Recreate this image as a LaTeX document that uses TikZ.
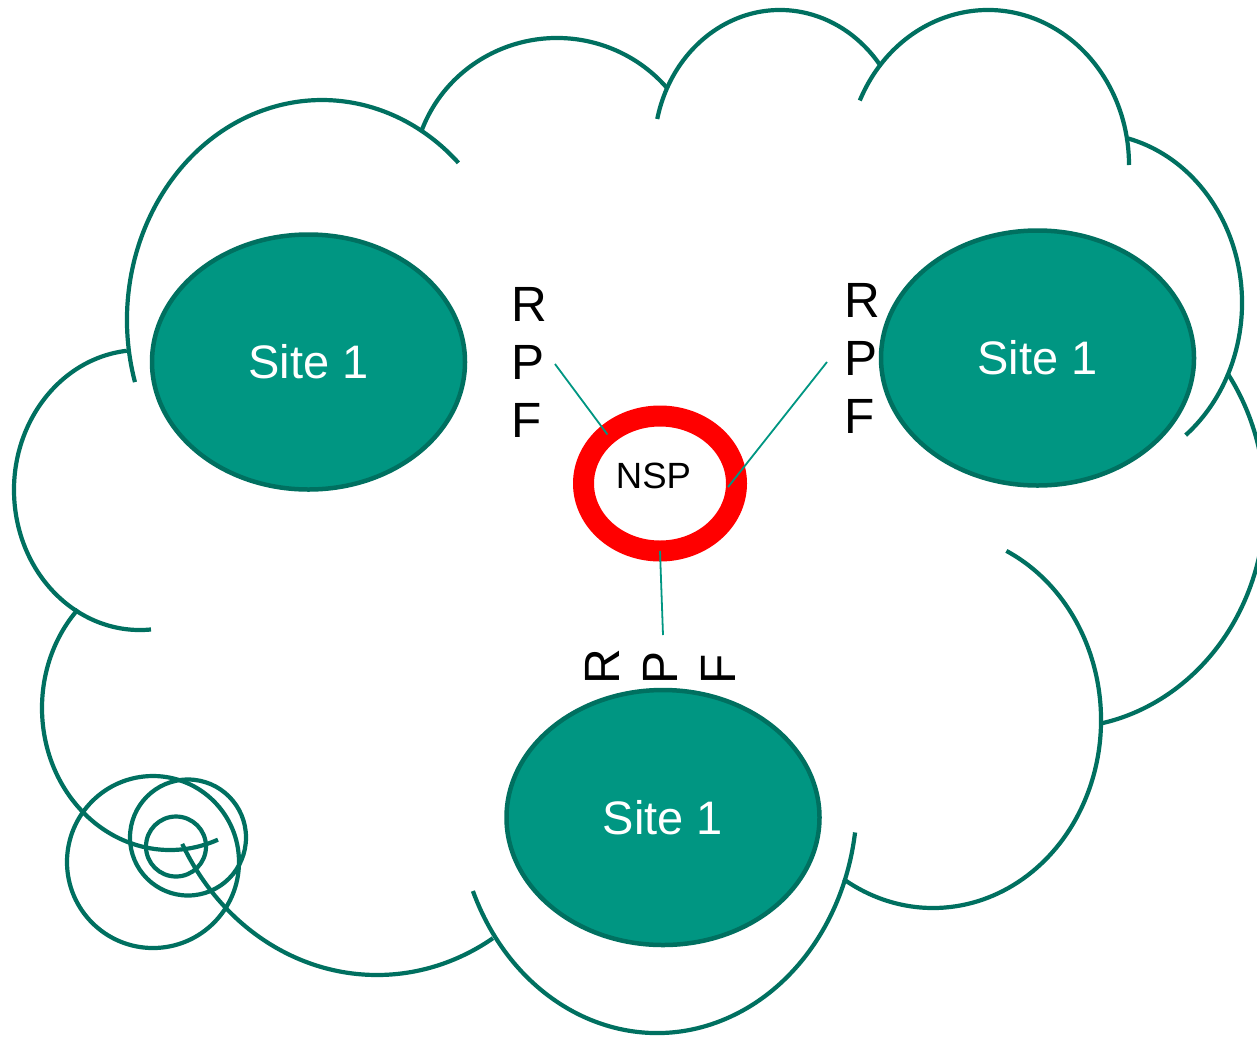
\documentclass[tikz,border=0pt]{standalone}
\usepackage{fontspec}
\setmainfont{Liberation Sans}
\usetikzlibrary{shapes.geometric}
\definecolor{cloudline}{RGB}{0,112,96}
\definecolor{sitefill}{RGB}{0,150,130}
\definecolor{nspred}{RGB}{255,0,0}
\newcommand\cloudlobe[6]{\draw[cloud] (#1,#2) ++(#5:#3 and #4) arc[start angle=#5,end angle=#6,x radius=#3,y radius=#4];}
\begin{document}
\begin{tikzpicture}[x=1pt,y=-1pt,
  cloud/.style={draw=cloudline,line width=4.2pt},
  site/.style={ellipse,draw=cloudline,line width=4.5pt,fill=sitefill,text=white,
    minimum width=313pt,minimum height=255pt,inner sep=0pt,font=\fontsize{47}{56}\selectfont},
  ring/.style={ellipse,draw=nspred,line width=21pt,minimum width=153pt,minimum height=135pt,
    inner sep=0pt,outer sep=0pt},
  rpf/.style={align=left,inner sep=0pt,font=\fontsize{49.5}{58}\selectfont},
  link/.style={draw=sitefill,line width=1.8pt}]
\useasboundingbox (0,0) rectangle (1257,1037);
\clip (0,0) rectangle (1257,1037);
\fill[white] (0,0) rectangle (1257,1037);
% cloud lobes: centre x, centre y, x radius, y radius, start, end
\cloudlobe{322}{320}{195}{220}{163.6}{314.4}
\cloudlobe{557}{180}{144.4}{142}{200.6}{319.6}
\cloudlobe{780}{150}{125.9}{140}{192.8}{322.6}
\cloudlobe{988}{165}{141}{155}{204.6}{360}
\cloudlobe{1090}{303}{152}{170}{-75.5}{51}
\cloudlobe{1060}{503}{205}{225}{-35.2}{78.2}
\cloudlobe{933}{720}{168}{188}{-64.1}{122.2}
\cloudlobe{657}{800}{200}{233}{157}{8}
\cloudlobe{377}{730}{220}{245}{58.2}{152.3}
\cloudlobe{170}{708}{128}{142}{224}{68}
\cloudlobe{140}{490}{126}{140}{264}{85}
% small circles
\draw[cloud] (153,862) circle[radius=86];
\draw[cloud] (188,837.5) circle[radius=58];
\draw[cloud] (176,846.5) circle[radius=30];
% sites
\node[site] (s1) at (308.5,362) {Site 1};
\node[site] (s2) at (1037.5,358) {Site 1};
\node[site] (s3) at (663,817.5) {Site 1};
% NSP
\node[ring] (nsp) at (660,483.5) {};
\node[font=\fontsize{36.5}{43}\selectfont,inner sep=0pt] (nsptext) at (653.5,476) {NSP};
% RPF labels
\node[rpf,anchor=west] (rpf1) at (511,362) {R\\P\\F};
\node[rpf,anchor=west] (rpf2) at (844,358.5) {R\\P\\F};
\node[rpf,anchor=west,rotate=90] (rpf3) at (660.5,685) {R\\P\\F};
% links
\coordinate (l1) at (555,364);
\coordinate (l2) at (827,362);
\coordinate (l3) at (663,635);
\draw[link] (l1) -- (nsp.137.7);
\draw[link,shorten >=-13pt] (l2) -- (nsp.5.8);
\draw[link] (l3) -- (nsp.-90);
\end{tikzpicture}
\end{document}
